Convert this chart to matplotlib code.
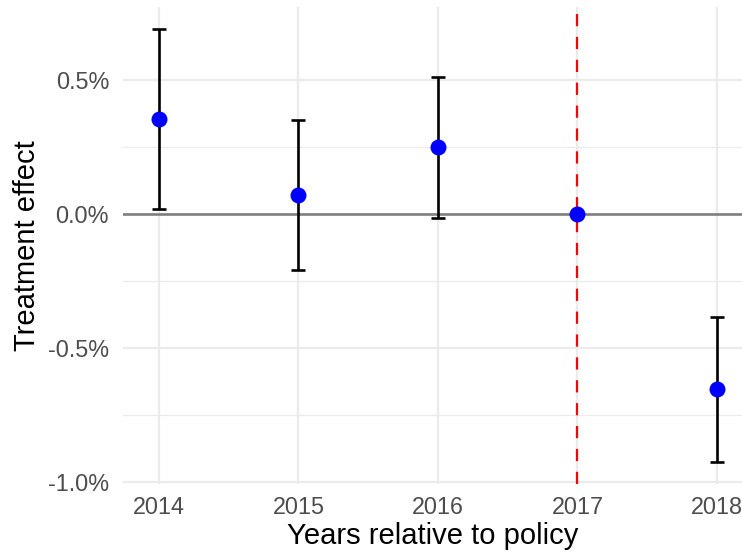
import matplotlib
matplotlib.use("Agg")
import matplotlib.pyplot as plt
from matplotlib.ticker import FuncFormatter, FixedLocator

years = [2014, 2015, 2016, 2017, 2018]
estimate = [0.354, 0.071, 0.249, 0.0, -0.654]   # percent
ci_low = [0.0175, -0.209, -0.016, 0.0, -0.925]
ci_high = [0.690, 0.351, 0.512, 0.0, -0.383]
policy_year = 2017
y_ticks = [-1.0, -0.5, 0.0, 0.5]
y_minor = [-0.75, -0.25, 0.25]

plt.rcParams['font.family'] = ['Liberation Sans', 'DejaVu Sans']

fig = plt.figure(figsize=(7.42, 5.56), dpi=100)
ax = fig.add_axes([123/742, (556-484)/556, (742-123)/742, (484-7)/556])

ax.set_xlim(2013.742, 2018.18)
ax.set_ylim(-1.0075, 0.772)

grid_c = '#EBEBEB'
for yv in y_ticks:
    ax.axhline(yv, color=grid_c, lw=1.6, zorder=0)
for yv in y_minor:
    ax.axhline(yv, color=grid_c, lw=0.9, zorder=0)
for xv in years:
    ax.axvline(xv, color=grid_c, lw=1.6, zorder=0)

ax.axhline(0, color='#7F7F7F', lw=1.9, zorder=1)
vl = ax.axvline(policy_year, color='red', lw=1.6, zorder=2)
vl.set_dashes([5.5, 4.8])

# error bars (skip zero-width reference year)
for x, lo, hi in zip(years, ci_low, ci_high):
    if hi - lo > 0:
        ax.vlines(x, lo, hi, color='black', lw=1.9, zorder=3)
        ax.hlines([lo, hi], x - 0.05, x + 0.05, color='black', lw=1.9, zorder=3)

ax.plot(years, estimate, 'o', color='blue', markersize=11.5, zorder=4, markeredgewidth=0)

for s in ax.spines.values():
    s.set_visible(False)
ax.xaxis.set_major_locator(FixedLocator(years))
ax.yaxis.set_major_locator(FixedLocator(y_ticks))
ax.yaxis.set_major_formatter(FuncFormatter(lambda v, p: f"{v:.1f}%".replace('\u2212', '-')))
ax.tick_params(length=0, labelsize=16.8, labelcolor='#4D4D4D')
ax.tick_params(axis='y', pad=10)
ax.tick_params(axis='x', pad=9)

ax.set_xlabel('Years relative to policy', fontsize=21, color='black', labelpad=2)
ax.set_ylabel('Treatment effect', fontsize=21, color='black', labelpad=5)

fig.savefig('out.png', dpi=100)
